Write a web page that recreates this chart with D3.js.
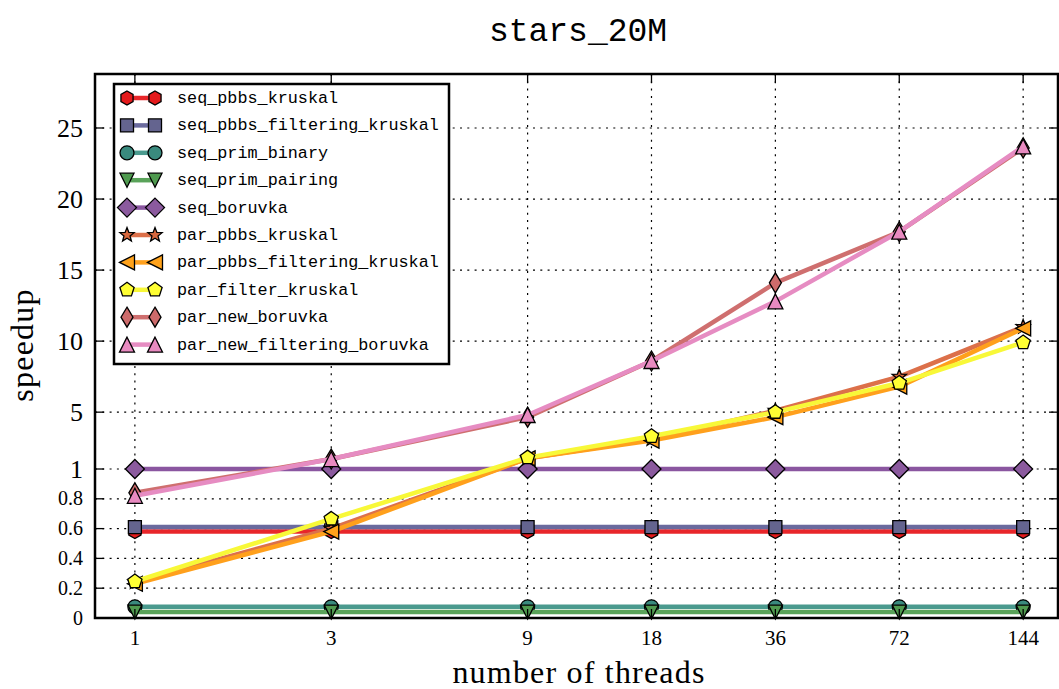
<!DOCTYPE html>
<html>
<head>
<meta charset="utf-8">
<script src="https://cdn.jsdelivr.net/npm/d3@7"></script>
<style>
  html, body { margin: 0; padding: 0; background: #fff; }
  svg { display: block; }
</style>
</head>
<body>
<svg id="chart" width="1059" height="689"></svg>
<script>
// Thread counts on the x axis
const threads = [1, 3, 9, 18, 36, 72, 144];

// Speedup per thread count, one array per algorithm
const seqPbbsKruskal          = [0.58, 0.58, 0.58, 0.58, 0.58, 0.58, 0.58];
const seqPbbsFilteringKruskal = [0.61, 0.61, 0.61, 0.61, 0.61, 0.61, 0.61];
const seqPrimBinary           = [0.075, 0.075, 0.075, 0.075, 0.075, 0.075, 0.075];
const seqPrimPairing          = [0.04, 0.04, 0.04, 0.04, 0.04, 0.04, 0.04];
const seqBoruvka              = [1.0, 1.0, 1.0, 1.0, 1.0, 1.0, 1.0];
const parPbbsKruskal          = [0.24, 0.60, 1.75, 3.1, 5.1, 7.5, 11.0];
const parPbbsFilteringKruskal = [0.23, 0.58, 1.75, 3.0, 4.65, 6.8, 10.9];
const parFilterKruskal        = [0.245, 0.665, 1.8, 3.3, 5.0, 7.05, 9.9];
const parNewBoruvka           = [0.84, 1.7, 4.65, 8.6, 14.1, 17.7, 23.6];
const parNewFilteringBoruvka  = [0.82, 1.7, 4.8, 8.6, 12.8, 17.7, 23.7];

const seriesNames = [
  "seq_pbbs_kruskal", "seq_pbbs_filtering_kruskal", "seq_prim_binary",
  "seq_prim_pairing", "seq_boruvka", "par_pbbs_kruskal",
  "par_pbbs_filtering_kruskal", "par_filter_kruskal", "par_new_boruvka",
  "par_new_filtering_boruvka"
];
const seriesValues = [
  seqPbbsKruskal, seqPbbsFilteringKruskal, seqPrimBinary, seqPrimPairing,
  seqBoruvka, parPbbsKruskal, parPbbsFilteringKruskal, parFilterKruskal,
  parNewBoruvka, parNewFilteringBoruvka
];
const lineColors = [
  "#e8262a", "#6a6a9e", "#4a9a8e", "#5aa35a", "#8a56a0",
  "#dc704a", "#ffa01c", "#f8f838", "#cf6f6f", "#e68cc2"
];
const markerFills = [
  "#e41a1c", "#64648f", "#3a8a7e", "#4f9a4f", "#8b5a9e",
  "#d8683e", "#ffa21a", "#ffff33", "#cd6b6b", "#e88ac0"
];
const markerKinds = [
  "hexagon", "square", "circle", "triDown", "diamond",
  "star", "triLeft", "pentagon", "thinDiamond", "triUp"
];

// Y tick values (split scale: fine below 1, coarse above)
const yTicksSmall = [0, 0.2, 0.4, 0.6, 0.8];
const yTicksLarge = [1, 5, 10, 15, 20, 25];

const svg = d3.select("#chart");
const plotLeft = 95, plotRight = 1058, plotTop = 74, plotBottom = 618;

const x = d3.scaleLog().base(2).domain([0.8, 175]).range([plotLeft, plotRight]);
const y = d3.scaleLinear().domain([0, 1, 28.8]).range([plotBottom, 469, plotTop]);

// Marker path builders (centered at 0,0)
function poly(points) {
  return "M" + points.map(p => p[0].toFixed(2) + "," + p[1].toFixed(2)).join("L") + "Z";
}
function regular(n, r, rot) {
  const pts = [];
  for (let i = 0; i < n; i++) {
    const a = rot + i * 2 * Math.PI / n;
    pts.push([r * Math.cos(a), r * Math.sin(a)]);
  }
  return poly(pts);
}
function markerPath(kind) {
  switch (kind) {
    case "hexagon": return regular(6, 7, -Math.PI / 2);
    case "square": return poly([[-6.5, -6.5], [6.5, -6.5], [6.5, 6.5], [-6.5, 6.5]]);
    case "circle": return "M7,0A7,7 0 1,1 -7,0A7,7 0 1,1 7,0Z";
    // triangles are centred on their bounding box
    case "triDown": return poly([[0, 7], [-7, -7], [7, -7]]);
    case "triUp": return poly([[0, -7.5], [-7.5, 7.5], [7.5, 7.5]]);
    case "triLeft": return poly([[-7.5, 0], [7.5, -7.5], [7.5, 7.5]]);
    case "diamond": return poly([[0, -9.5], [9.5, 0], [0, 9.5], [-9.5, 0]]);
    case "thinDiamond": return poly([[0, -10], [6, 0], [0, 10], [-6, 0]]);
    case "pentagon": return regular(5, 7.5, -Math.PI / 2);
    case "star": {
      const pts = [];
      for (let i = 0; i < 10; i++) {
        const r = i % 2 === 0 ? 7.5 : 3.2;
        const a = -Math.PI / 2 + i * Math.PI / 5;
        pts.push([r * Math.cos(a), r * Math.sin(a)]);
      }
      return poly(pts);
    }
  }
}

const serif = "'Liberation Serif', 'DejaVu Serif', serif";
const mono = "'Liberation Mono', 'DejaVu Sans Mono', monospace";

// Grid
const grid = svg.append("g").attr("stroke", "#000").attr("stroke-width", 1.2)
  .attr("stroke-dasharray", "2,5.3");
yTicksSmall.concat(yTicksLarge).filter(v => v > 0).forEach(v => {
  grid.append("line").attr("x1", plotLeft).attr("x2", plotRight)
    .attr("y1", y(v)).attr("y2", y(v));
});
threads.forEach(t => {
  grid.append("line").attr("x1", x(t)).attr("x2", x(t))
    .attr("y1", plotTop).attr("y2", plotBottom);
});

// Series: line then markers, drawn in legend order
const lineGen = d3.line().x((d, i) => x(threads[i])).y(d => y(d));
const plot = svg.append("g");
seriesValues.forEach((vals, s) => {
  plot.append("path").datum(vals)
    .attr("d", lineGen)
    .attr("fill", "none")
    .attr("stroke", lineColors[s])
    .attr("stroke-width", 4.5)
    .attr("stroke-linejoin", "round");
  plot.selectAll(null).data(vals).enter().append("path")
    .attr("d", markerPath(markerKinds[s]))
    .attr("transform", (d, i) => `translate(${x(threads[i])},${y(d)})`)
    .attr("fill", markerFills[s])
    .attr("stroke", "#000")
    .attr("stroke-width", 1.3)
    .attr("stroke-linejoin", "miter");
});

// Ticks (inward on all sides)
const ticks = svg.append("g").attr("stroke", "#000").attr("stroke-width", 1.3);
yTicksSmall.concat(yTicksLarge).forEach(v => {
  ticks.append("line").attr("x1", plotLeft).attr("x2", plotLeft + 9).attr("y1", y(v)).attr("y2", y(v));
  ticks.append("line").attr("x1", plotRight).attr("x2", plotRight - 9).attr("y1", y(v)).attr("y2", y(v));
});
threads.forEach(t => {
  ticks.append("line").attr("x1", x(t)).attr("x2", x(t)).attr("y1", plotBottom).attr("y2", plotBottom - 9);
  ticks.append("line").attr("x1", x(t)).attr("x2", x(t)).attr("y1", plotTop).attr("y2", plotTop + 9);
});

// Frame
svg.append("rect").attr("x", plotLeft).attr("y", plotTop)
  .attr("width", plotRight - plotLeft).attr("height", plotBottom - plotTop)
  .attr("fill", "none").attr("stroke", "#000").attr("stroke-width", 2.5);

// Y tick labels
svg.append("g").selectAll("text").data(yTicksSmall).enter().append("text")
  .attr("x", 83).attr("y", d => y(d) + 6.5)
  .attr("text-anchor", "end")
  .attr("font-family", serif).attr("font-size", 20)
  .text(d => d === 0 ? "0" : d3.format(".1f")(d));
svg.append("g").selectAll("text").data(yTicksLarge).enter().append("text")
  .attr("x", 83).attr("y", d => y(d) + 9)
  .attr("text-anchor", "end")
  .attr("font-family", serif).attr("font-size", 26)
  .text(d => d);

// X tick labels
svg.append("g").selectAll("text").data(threads).enter().append("text")
  .attr("x", d => x(d)).attr("y", 645)
  .attr("text-anchor", "middle")
  .attr("font-family", serif).attr("font-size", 21)
  .text(d => d);

// Axis titles
svg.append("text").attr("x", 579).attr("y", 683)
  .attr("text-anchor", "middle")
  .attr("font-family", serif).attr("font-size", 32)
  .attr("letter-spacing", 1.2)
  .text("number of threads");
svg.append("text")
  .attr("transform", "translate(33,345) rotate(-90)")
  .attr("text-anchor", "middle")
  .attr("font-family", serif).attr("font-size", 32)
  .attr("letter-spacing", 1.2)
  .text("speedup");

// Title
svg.append("text").attr("x", 578).attr("y", 41)
  .attr("text-anchor", "middle")
  .attr("font-family", mono).attr("font-size", 33)
  .text("stars_20M");

// Legend
const legend = svg.append("g");
legend.append("rect").attr("x", 114).attr("y", 84)
  .attr("width", 335).attr("height", 280)
  .attr("fill", "#fff").attr("stroke", "#000").attr("stroke-width", 2.5);
seriesNames.forEach((name, s) => {
  const ly = 98 + s * 27.4;
  legend.append("line").attr("x1", 127).attr("x2", 155)
    .attr("y1", ly).attr("y2", ly)
    .attr("stroke", lineColors[s]).attr("stroke-width", 4.5);
  [127, 155].forEach(mx => {
    legend.append("path").attr("d", markerPath(markerKinds[s]))
      .attr("transform", `translate(${mx},${ly})`)
      .attr("fill", markerFills[s]).attr("stroke", "#000").attr("stroke-width", 1.3);
  });
  legend.append("text").attr("x", 177).attr("y", ly + 5)
    .attr("font-family", mono).attr("font-size", 16.8)
    .text(name);
});
</script>
</body>
</html>
